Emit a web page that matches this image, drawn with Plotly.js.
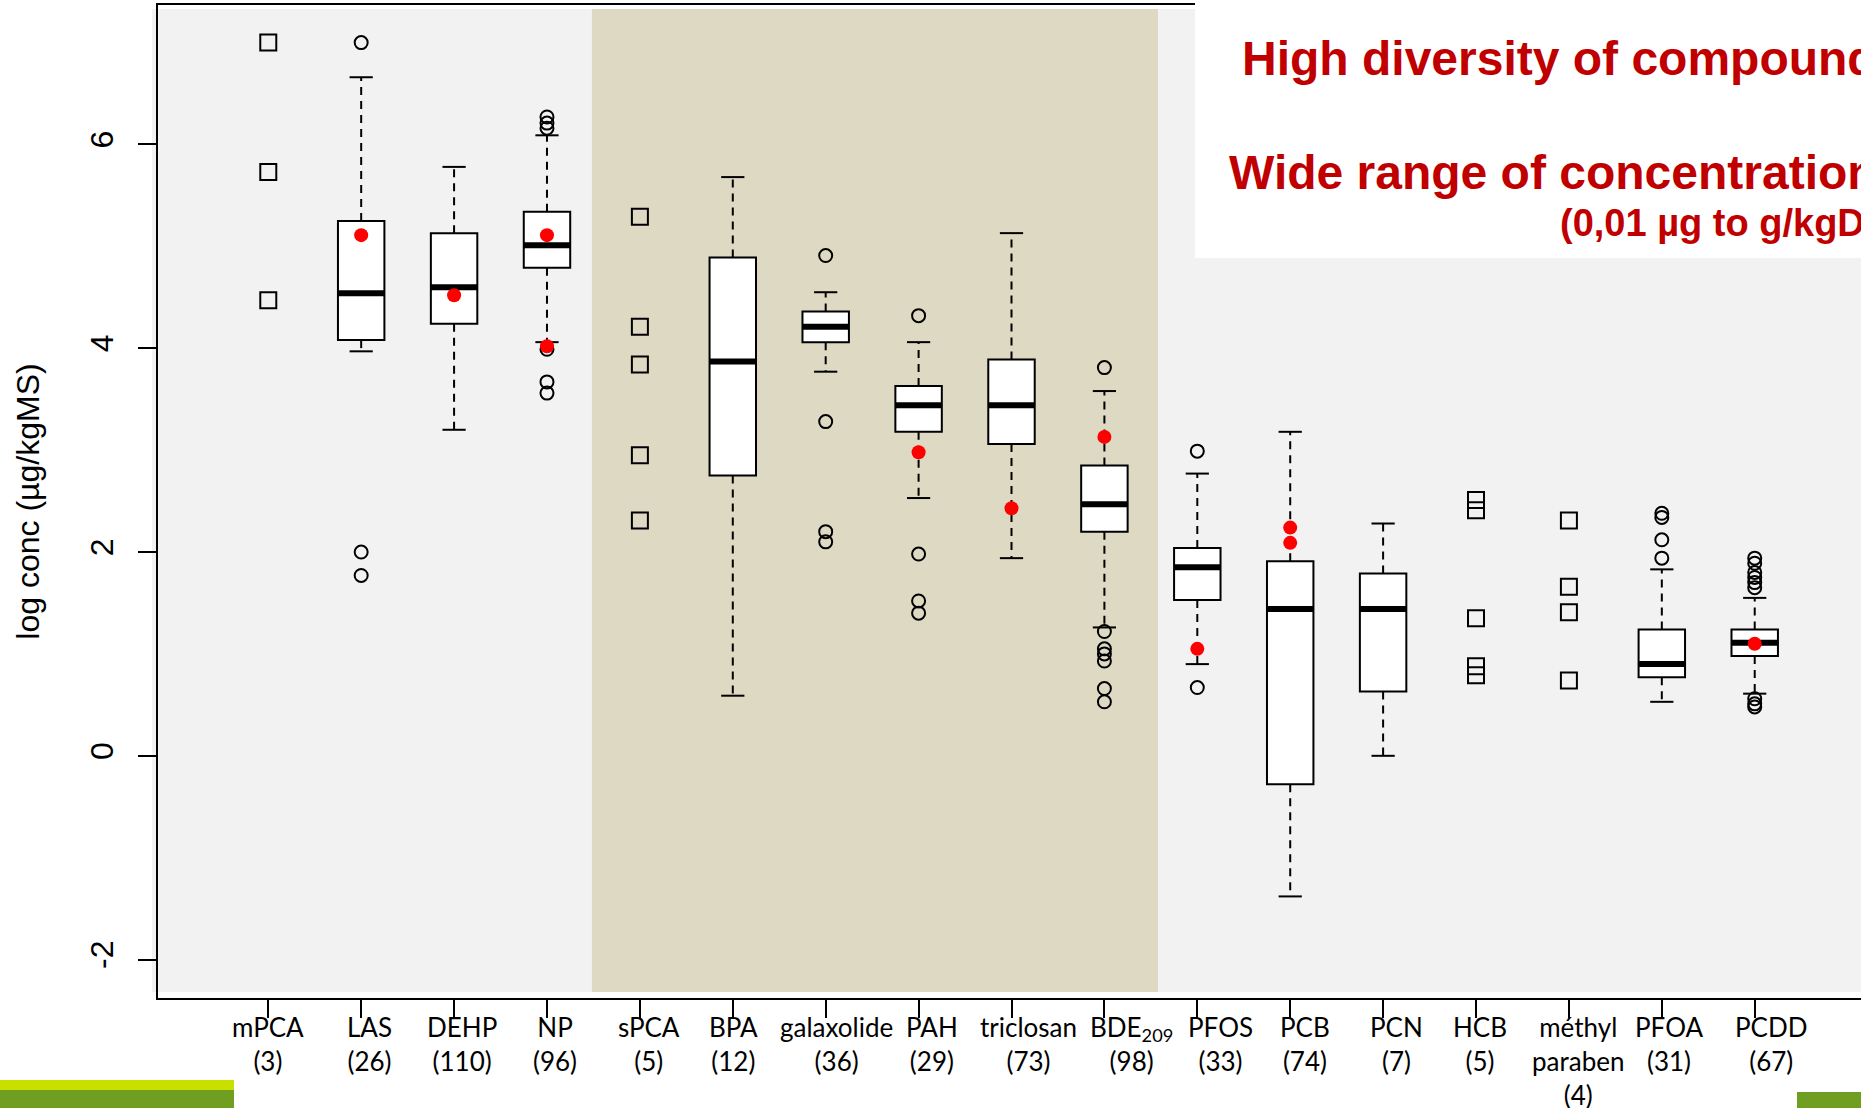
<!DOCTYPE html>
<html>
<head>
<meta charset="utf-8">
<script src="https://cdn.plot.ly/plotly-3.0.1.min.js"></script>
<style>
html,body{margin:0;padding:0;overflow:hidden;background:#ffffff;}
#chart{width:1861px;height:1108px;}
</style>
</head>
<body>
<div id="chart"></div>
<script>
// ---------------- data ----------------
const categories = ['mPCA','LAS','DEHP','NP','sPCA','BPA','galaxolide','PAH','triclosan','BDE<sub>209</sub>','PFOS','PCB','PCN','HCB','méthyl paraben','PFOA','PCDD'];
const counts = [3,26,110,96,5,12,36,29,73,98,33,74,7,5,4,31,67];

const q1          = [null,4.08,4.24,4.79,null,2.75,4.06,3.18,3.06,2.20,1.53,-0.28,0.63,null,null,0.77,0.98];
const median      = [null,4.54,4.60,5.01,null,3.87,4.21,3.44,3.44,2.47,1.85,1.44,1.44,null,null,0.90,1.11];
const q3          = [null,5.25,5.13,5.34,null,4.89,4.36,3.63,3.89,2.85,2.04,1.91,1.79,null,null,1.24,1.24];
const whiskerLow  = [null,3.97,3.20,4.06,null,0.59,3.77,2.53,1.94,1.26,0.90,-1.38,0.00,null,null,0.53,0.61];
const whiskerHigh = [null,6.66,5.78,6.09,null,5.68,4.55,4.06,5.13,3.58,2.77,3.18,2.28,null,null,1.83,1.55];

const outliers = [
  [], [7.00,2.00,1.77], [], [6.27,6.21,6.16,3.99,3.67,3.56], [], [],
  [4.91,3.28,2.20,2.10], [4.32,1.98,1.52,1.40], [], [3.81,1.22,1.05,1.00,0.93,0.66,0.53],
  [2.99,0.67], [], [], [], [], [2.38,2.34,2.12,1.94],
  [1.94,1.89,1.80,1.75,1.70,1.65,0.56,0.51,0.48]
];
// categories with very few samples: individual values only
const fewPoints = [
  [7.00,5.73,4.47], [], [], [], [5.29,4.21,3.84,2.95,2.31], [], [], [], [], [],
  [], [], [], [2.51,2.41,1.35,0.88,0.79], [2.31,1.66,1.41,0.74], [], []
];
// highlighted (red) values
const highlighted = [
  [], [5.11], [4.52], [5.11,4.02], [], [], [], [2.98], [2.43], [3.13],
  [1.05], [2.24,2.09], [], [], [], [], [1.10]
];
const yTicks = [-2,0,2,4,6];
const shadedGroup = ['sPCA','BDE<sub>209</sub>'];

// ---------------- styling / geometry (not data) ----------------
const W = 1861, H = 1108;
const M = {l:158, r:0, t:5, b:110};
const pw = W - M.l - M.r, ph = H - M.t - M.b;
const px2x = p => (p - M.l) / pw;
const px2y = p => (H - M.b - p) / ph;
// horizontal offset (px) of each category label relative to its tick, as on the slide
const labelShift = [0,8,8,8,9,1,11,13,17,27,23,15,13,4,9,7,17];

const pos = categories.map((c,i) => i + 1);
const BOXW = 0.5, CAPW = 0.25;
const boxIdx = pos.map((p,i) => i).filter(i => median[i] !== null);

// ---------------- traces ----------------
const boxTrace = {
  type:'box',
  x: boxIdx.map(i => pos[i]),
  q1: boxIdx.map(i => q1[i]),
  median: boxIdx.map(i => median[i]),
  q3: boxIdx.map(i => q3[i]),
  lowerfence: boxIdx.map(i => q1[i]),
  upperfence: boxIdx.map(i => q3[i]),
  width: BOXW,
  whiskerwidth: 0,
  fillcolor:'#ffffff',
  line:{color:'#000000', width:2},
  boxpoints:false,
  hoverinfo:'skip',
  showlegend:false
};

const wx = [], wy = [], cx = [], cy = [], mx = [], my = [];
boxIdx.forEach(i => {
  const p = pos[i];
  wx.push(p, p, null, p, p, null);
  wy.push(q3[i], whiskerHigh[i], null, q1[i], whiskerLow[i], null);
  cx.push(p - CAPW/2, p + CAPW/2, null, p - CAPW/2, p + CAPW/2, null);
  cy.push(whiskerHigh[i], whiskerHigh[i], null, whiskerLow[i], whiskerLow[i], null);
  mx.push(p - BOXW/2, p + BOXW/2, null);
  my.push(median[i], median[i], null);
});
const whiskerTrace = {type:'scatter', mode:'lines', x:wx, y:wy, line:{color:'#000', width:2, dash:'8px,6px'}, hoverinfo:'skip', showlegend:false};
const capTrace = {type:'scatter', mode:'lines', x:cx, y:cy, line:{color:'#000', width:2}, hoverinfo:'skip', showlegend:false};
const medianTrace = {type:'scatter', mode:'lines', x:mx, y:my, line:{color:'#000', width:6}, hoverinfo:'skip', showlegend:false};

function flatten(groups){
  const x = [], y = [];
  groups.forEach((vals,i) => vals.forEach(v => { x.push(pos[i]); y.push(v); }));
  return {x, y};
}
const o = flatten(outliers), f = flatten(fewPoints), h = flatten(highlighted);
const outlierTrace = {type:'scatter', mode:'markers', x:o.x, y:o.y,
  marker:{symbol:'circle-open', size:13, color:'#000', line:{width:2, color:'#000'}}, hoverinfo:'y', showlegend:false};
const fewTrace = {type:'scatter', mode:'markers', x:f.x, y:f.y,
  marker:{symbol:'square-open', size:16, color:'#000', line:{width:2, color:'#000'}}, hoverinfo:'y', showlegend:false};
const redTrace = {type:'scatter', mode:'markers', x:h.x, y:h.y,
  marker:{symbol:'circle', size:14, color:'#ff0000'}, hoverinfo:'y', showlegend:false};

const tickText = categories.map((c,i) => c.replace(' ', '<br>') + '<br>(' + counts[i] + ')');
const i0 = categories.indexOf(shadedGroup[0]), i1 = categories.indexOf(shadedGroup[1]);

const labelFont = {family:'Lato, "Open Sans", sans-serif', size:26, color:'#000'};
const labelAnnotations = tickText.map((t,i) => ({
  text:t, xref:'x', yref:'paper', x:pos[i], y:px2y(1009), xshift:labelShift[i],
  xanchor:'center', yanchor:'top', align:'center', showarrow:false, font:labelFont
}));

const titleFont = {family:'"Liberation Sans", Arial, sans-serif', color:'#c00000', weight:'bold'};

const layout = {
  width: W, height: H,
  margin: M,
  paper_bgcolor:'#ffffff',
  plot_bgcolor:'#ffffff',
  showlegend:false,
  xaxis:{
    range:[-0.187, 18.144],
    tickvals: pos, ticktext: tickText, showticklabels:false,
    ticks:'outside', ticklen:18, tickwidth:2, tickcolor:'#000',
    showline:true, linewidth:2, linecolor:'#000', mirror:true,
    showgrid:false, zeroline:false, automargin:false
  },
  yaxis:{
    range:[-2.377, 7.369],
    tickvals: yTicks, ticktext: yTicks.map(String),
    tickangle:-90,
    ticks:'outside', ticklen:18, tickwidth:2, tickcolor:'#000',
    showline:true, linewidth:2, linecolor:'#000',
    showgrid:false, zeroline:false, automargin:false,
    ticklabelstandoff: 12,
    tickfont:{family:'"Liberation Sans", Arial, sans-serif', size:32, color:'#000'},
    title:{text:'log conc (µg/kgMS)', standoff:35,
      font:{family:'"Liberation Sans", Arial, sans-serif', size:32, color:'#000'}}
  },
  shapes:[
    {type:'rect', layer:'below', xref:'paper', yref:'paper', x0:px2x(152), x1:px2x(1861), y0:px2y(992), y1:px2y(9),
      fillcolor:'#f2f2f2', line:{width:0}},
    {type:'rect', layer:'below', xref:'x', yref:'paper', x0:pos[i0]-0.516, x1:pos[i1]+0.577, y0:px2y(992), y1:px2y(9),
      fillcolor:'#ddd9c3', line:{width:0}},
    {type:'rect', layer:'above', xref:'paper', yref:'paper', x0:px2x(1195), x1:px2x(1861), y0:px2y(258), y1:px2y(0),
      fillcolor:'#ffffff', line:{width:0}},
    {type:'rect', layer:'above', xref:'paper', yref:'paper', x0:px2x(0), x1:px2x(234), y0:px2y(1090), y1:px2y(1080),
      fillcolor:'#c8df00', line:{width:0}},
    {type:'rect', layer:'above', xref:'paper', yref:'paper', x0:px2x(0), x1:px2x(234), y0:px2y(1108), y1:px2y(1090),
      fillcolor:'#6f9e20', line:{width:0}},
    {type:'rect', layer:'above', xref:'paper', yref:'paper', x0:px2x(1797), x1:px2x(1861), y0:px2y(1108), y1:px2y(1092),
      fillcolor:'#6f9e20', line:{width:0}}
  ],
  annotations: labelAnnotations.concat([
    {text:'High diversity of compounds', xref:'paper', yref:'paper', x:px2x(1240), y:px2y(59), xanchor:'left', yanchor:'middle',
      showarrow:false, font:Object.assign({size:48}, titleFont)},
    {text:'Wide range of concentrations', xref:'paper', yref:'paper', x:px2x(1227), y:px2y(172), xanchor:'left', yanchor:'middle',
      showarrow:false, font:Object.assign({size:48}, titleFont)},
    {text:'(0,01 µg to g/kgDM)', xref:'paper', yref:'paper', x:px2x(1558), y:px2y(223), xanchor:'left', yanchor:'middle',
      showarrow:false, font:Object.assign({size:38}, titleFont)}
  ])
};

Plotly.newPlot('chart', [boxTrace, whiskerTrace, capTrace, medianTrace, outlierTrace, fewTrace, redTrace], layout,
  {displayModeBar:false, staticPlot:true});
</script>
</body>
</html>
